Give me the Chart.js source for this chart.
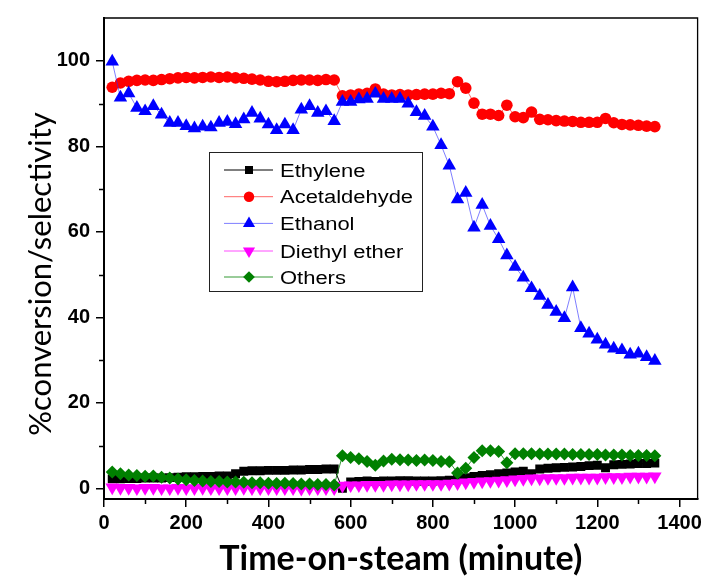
<!DOCTYPE html>
<html>
<head>
<meta charset="utf-8">
<script src="https://cdn.jsdelivr.net/npm/chart.js@4.4.1/dist/chart.umd.min.js"></script>
<style>
  html, body { margin: 0; padding: 0; background: #fff; }
  canvas { display: block; }
</style>
</head>
<body>
<canvas id="chart" width="706" height="579"></canvas>
<script>
// Time on stream (minutes) for each sampling point
const timeMin = [20, 40, 60, 80, 100, 120, 140, 160, 180, 200, 220, 240, 260, 280, 300, 320, 340, 360, 380, 400,
  420, 440, 460, 480, 500, 520, 540, 560, 580, 600, 620, 640, 660, 680, 700, 720, 740, 760, 780, 800,
  820, 840, 860, 880, 900, 920, 940, 960, 980, 1000, 1020, 1040, 1060, 1080, 1100, 1120, 1140, 1160, 1180, 1200,
  1220, 1240, 1260, 1280, 1300, 1320, 1340];

// Selectivities (%)
const ethylene = [2.2, 2.2, 2.3, 2.3, 2.4, 2.4, 2.4, 2.5, 2.6, 2.7, 2.7, 2.8, 2.8, 2.9, 2.9, 3.4, 4.0, 4.1, 4.1, 4.2,
  4.2, 4.2, 4.3, 4.3, 4.4, 4.4, 4.5, 4.5, 0.0, 1.5, 1.6, 1.7, 1.6, 1.7, 1.7, 1.8, 1.8, 1.7, 1.7, 1.7,
  1.8, 1.9, 2.2, 2.5, 2.8, 3.0, 3.2, 3.4, 3.6, 3.8, 4.0, 3.4, 4.5, 4.7, 4.8, 4.9, 5.0, 5.1, 5.3, 5.4,
  4.8, 5.5, 5.6, 5.7, 5.8, 5.8, 5.9];

const acetaldehyde = [93.8, 94.8, 95.2, 95.4, 95.5, 95.4, 95.6, 95.8, 96.0, 96.1, 96.0, 96.1, 96.2, 96.1, 96.2, 96.0, 95.9, 95.7, 95.5, 95.2,
  95.1, 95.2, 95.4, 95.5, 95.5, 95.4, 95.6, 95.5, 91.8, 92.0, 92.2, 92.4, 93.4, 92.2, 92.0, 92.1, 92.0, 92.1, 92.2, 92.2,
  92.4, 92.3, 95.1, 93.6, 90.1, 87.5, 87.5, 87.2, 89.6, 86.9, 86.7, 88.0, 86.3, 86.2, 86.0, 85.9, 85.8, 85.6, 85.6, 85.6,
  86.5, 85.5, 85.1, 85.0, 84.9, 84.7, 84.6];

// Ethanol conversion (%)
const ethanol = [99.8, 91.4, 92.4, 89.0, 88.2, 89.4, 87.4, 85.5, 85.5, 84.7, 84.2, 84.6, 84.4, 85.5, 85.7, 85.2, 86.3, 87.8, 86.5, 85.1,
  83.8, 85.1, 83.8, 88.6, 89.4, 87.8, 88.2, 85.9, 90.4, 90.4, 91.0, 91.1, 92.3, 91.1, 91.1, 91.1, 90.0, 88.0, 87.1, 84.6,
  80.3, 75.5, 67.6, 69.1, 61.0, 66.3, 61.4, 58.3, 54.5, 51.8, 49.3, 46.8, 45.0, 42.9, 41.3, 39.8, 47.0, 37.5, 36.2, 34.8,
  33.6, 32.7, 32.3, 31.3, 31.5, 30.7, 29.8];

const diethylEther = [0.2, 0.1, 0.1, 0.0, 0.1, 0.1, 0.0, 0.0, 0.1, 0.0, 0.0, 0.1, 0.0, 0.0, 0.0, 0.0, 0.1, 0.0, 0.0, 0.0,
  0.0, 0.0, 0.0, -0.1, 0.0, 0.0, 0.0, 0.0, 0.6, 0.7, 0.7, 0.8, 0.8, 0.8, 0.9, 0.9, 0.9, 1.0, 1.0, 1.0,
  1.0, 1.1, 1.2, 1.4, 1.5, 1.6, 1.7, 1.8, 1.9, 2.1, 2.2, 2.3, 2.3, 2.4, 2.4, 2.4, 2.5, 2.5, 2.5, 2.5,
  2.6, 2.6, 2.6, 2.7, 2.7, 2.7, 2.8];

const others = [3.8, 3.4, 3.1, 3.0, 2.8, 2.9, 2.6, 2.4, 2.2, 2.0, 1.8, 1.7, 1.6, 1.6, 1.5, 1.5, 1.4, 1.3, 1.3, 1.2,
  1.1, 1.2, 1.1, 1.0, 1.0, 0.9, 0.9, 0.8, 7.6, 7.2, 6.9, 6.3, 5.4, 6.4, 6.8, 6.7, 6.6, 6.5, 6.6, 6.5,
  6.3, 6.2, 3.6, 4.7, 7.2, 8.8, 8.8, 8.6, 6.0, 8.1, 8.1, 8.1, 8.0, 8.0, 8.0, 8.0, 7.9, 7.9, 7.9, 7.9,
  7.8, 7.8, 7.8, 7.7, 7.7, 7.7, 7.6];

const seriesNames = ['Ethylene', 'Acetaldehyde', 'Ethanol', 'Diethyl ether', 'Others'];
const xTickValues = [0, 200, 400, 600, 800, 1000, 1200, 1400];
const yTickValues = [0, 20, 40, 60, 80, 100];
const xMinorValues = [100, 300, 500, 700, 900, 1100, 1300];
const yMinorValues = [10, 30, 50, 70, 90];
const xTitle = 'Time-on-steam (minute)';
const yTitle = '%conversion/selectivity';

const toPoints = vals => timeMin.map((t, i) => ({ x: t, y: vals[i] }));

// marker / line look of each series (same order as seriesNames)
const looks = [
  { color: '#000000', line: '#000000', style: 'rect', radius: 6.3, rotation: 0 },
  { color: '#ff0000', line: 'rgba(255,0,0,0.6)', style: 'circle', radius: 5.8, rotation: 0 },
  { color: '#0000ff', line: 'rgba(40,40,255,0.6)', style: 'triangle', radius: 7.8, rotation: 0 },
  { color: '#ff00ff', line: 'rgba(255,0,255,0.7)', style: 'triangle', radius: 7.8, rotation: 180 },
  { color: '#008000', line: 'rgba(0,128,0,0.8)', style: 'rectRot', radius: 6.5, rotation: 0 }
];
const seriesValues = [ethylene, acetaldehyde, ethanol, diethylEther, others];

const datasets = seriesNames.map((name, i) => ({
  label: name,
  data: toPoints(seriesValues[i]),
  borderColor: looks[i].line,
  borderWidth: 1,
  backgroundColor: looks[i].color,
  pointBackgroundColor: looks[i].color,
  pointBorderWidth: 0,
  pointStyle: looks[i].style,
  pointRadius: looks[i].radius,
  pointRotation: looks[i].rotation,
  tension: 0,
  fill: false,
  order: seriesNames.length - i
}));

// frame, minor ticks, y title and the inset legend
const decorations = {
  id: 'decorations',
  afterDraw(chart) {
    const { ctx, chartArea: a, scales: { x, y } } = chart;
    ctx.save();
    // top and right edges of the frame
    ctx.strokeStyle = '#000';
    ctx.lineWidth = 1.3;
    ctx.beginPath();
    ctx.moveTo(a.left, a.top);
    ctx.lineTo(a.right, a.top);
    ctx.lineTo(a.right, a.bottom);
    ctx.stroke();
    // minor ticks
    ctx.lineWidth = 1.5;
    ctx.beginPath();
    xMinorValues.forEach(v => {
      const px = Math.round(x.getPixelForValue(v)) + 0.5;
      ctx.moveTo(px, a.bottom);
      ctx.lineTo(px, a.bottom + 5);
    });
    yMinorValues.forEach(v => {
      const py = Math.round(y.getPixelForValue(v)) + 0.5;
      ctx.moveTo(a.left, py);
      ctx.lineTo(a.left - 5, py);
    });
    ctx.stroke();

    // y axis title
    ctx.save();
    ctx.fillStyle = '#000';
    ctx.font = '31px Lato, "Open Sans", sans-serif';
    ctx.textAlign = 'center';
    ctx.textBaseline = 'middle';
    ctx.translate(41, 274);
    ctx.rotate(-Math.PI / 2);
    ctx.fillText(yTitle, 0, 0);
    ctx.restore();

    // legend box
    const bx = 209, by = 152, bw = 213, bh = 139;
    ctx.fillStyle = '#fff';
    ctx.fillRect(bx, by, bw, bh);
    ctx.strokeStyle = '#222';
    ctx.lineWidth = 1;
    ctx.strokeRect(bx + 0.5, by + 0.5, bw, bh);
    const rowY = [170, 196.7, 223.4, 251, 277];
    seriesNames.forEach((name, i) => {
      const ry = rowY[i];
      ctx.strokeStyle = looks[i].line;
      ctx.lineWidth = 1;
      ctx.beginPath();
      ctx.moveTo(224, ry);
      ctx.lineTo(273, ry);
      ctx.stroke();
      ctx.fillStyle = looks[i].color;
      Chart.helpers.drawPoint(ctx, {
        pointStyle: looks[i].style, radius: looks[i].radius * 0.9,
        rotation: looks[i].rotation, borderWidth: 0
      }, 249, ry);
      ctx.save();
      ctx.fillStyle = '#000';
      ctx.font = '18px "Liberation Sans", Arial, sans-serif';
      ctx.textBaseline = 'alphabetic';
      ctx.translate(280, ry + 6.5);
      ctx.scale(1.22, 1);
      ctx.fillText(name, 0, 0);
      ctx.restore();
    });
    ctx.restore();
  }
};

const tickFont = { family: '"Liberation Sans", Arial, sans-serif', size: 20, weight: 'bold' };
const titleFont = { family: 'Lato, "Open Sans", sans-serif', size: 34, weight: 'bold', lineHeight: 1.2 };

new Chart(document.getElementById('chart'), {
  type: 'line',
  data: { datasets },
  plugins: [decorations],
  options: {
    responsive: false,
    animation: false,
    events: [],
    layout: { padding: { left: 0, right: 8, top: 12, bottom: 0 } },
    plugins: { legend: { display: false }, tooltip: { enabled: false } },
    scales: {
      x: {
        type: 'linear',
        min: 0,
        max: 1444,
        afterFit(scale) { scale.height = 80; },
        afterBuildTicks(scale) { scale.ticks = xTickValues.map(v => ({ value: v })); },
        border: { display: true, color: '#000', width: 2 },
        grid: { display: true, drawOnChartArea: false, drawTicks: true, tickLength: 8, color: '#000', lineWidth: 1.5 },
        ticks: { color: '#000', font: tickFont, padding: 4, maxRotation: 0, autoSkip: false, callback: v => String(v) },
        title: { display: true, text: xTitle, color: '#000', font: titleFont, padding: { top: 0, bottom: 0 } }
      },
      y: {
        type: 'linear',
        min: -2.5,
        max: 110,
        afterFit(scale) { scale.width = 104; },
        afterBuildTicks(scale) { scale.ticks = yTickValues.map(v => ({ value: v })); },
        border: { display: true, color: '#000', width: 2 },
        grid: { display: true, drawOnChartArea: false, drawTicks: true, tickLength: 8, color: '#000', lineWidth: 1.5 },
        ticks: { color: '#000', font: tickFont, padding: 6, autoSkip: false, callback: v => String(v) },
        title: { display: false }
      }
    }
  }
});
</script>
</body>
</html>
